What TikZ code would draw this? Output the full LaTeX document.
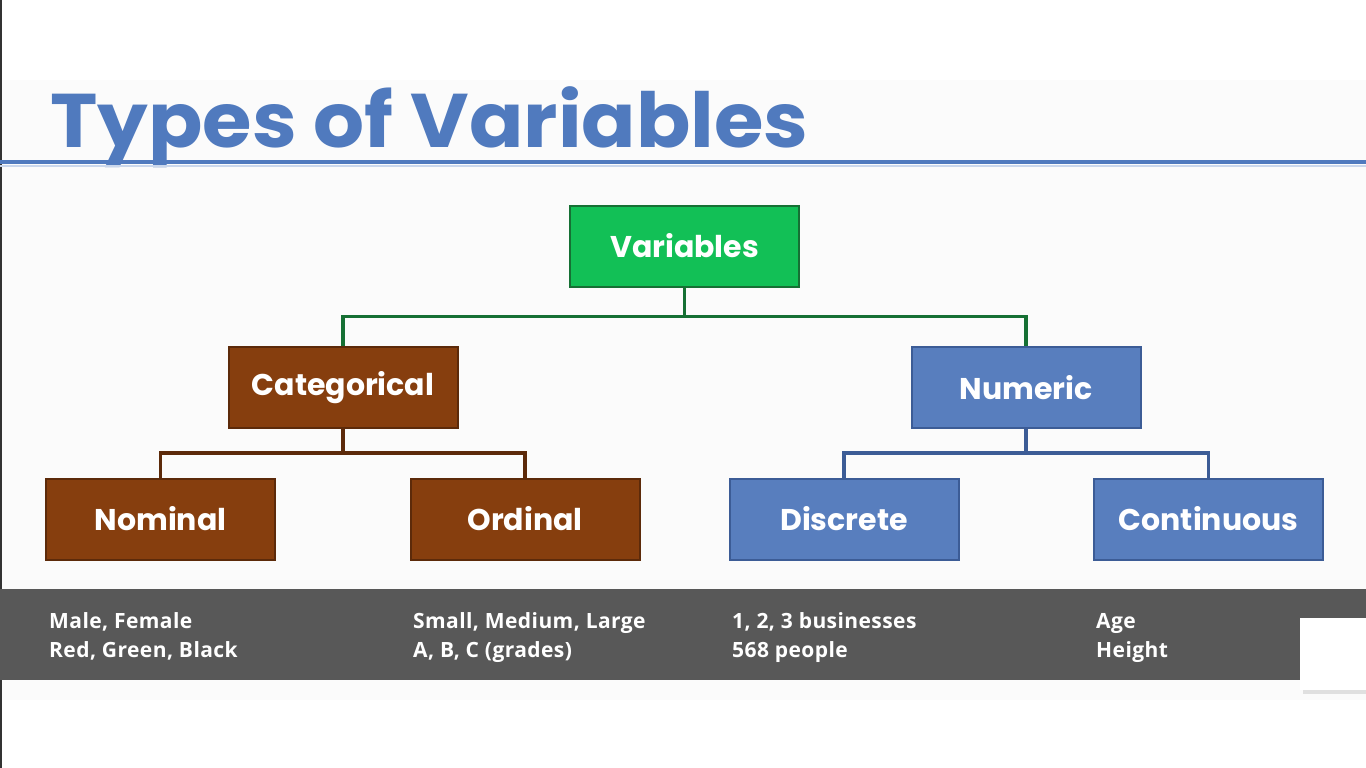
\documentclass[tikz,border=0pt]{standalone}
\usepackage{fontspec}
\setmainfont{Poppins}
\newfontfamily\bandfont{Open Sans}[LetterSpace=2]
\definecolor{titleblue}{RGB}{80,122,190}
\definecolor{varfill}{RGB}{18,192,86}
\definecolor{varedge}{RGB}{22,112,52}
\definecolor{catfill}{RGB}{134,62,14}
\definecolor{catedge}{RGB}{92,42,10}
\definecolor{numfill}{RGB}{88,126,190}
\definecolor{numedge}{RGB}{60,92,150}
\definecolor{bandgray}{RGB}{88,88,88}
\tikzset{
  box/.style={draw, line width=2pt, minimum width=229pt, minimum height=81pt,
    text=white, font=\fontsize{30}{34}\selectfont\bfseries},
  varbox/.style={box, fill=varfill, draw=varedge},
  catbox/.style={box, fill=catfill, draw=catedge},
  numbox/.style={box, fill=numfill, draw=numedge},
  link/.style={line width=3.5pt},
  bandtext/.style={anchor=base west, text=white, align=left, inner sep=0pt,
    font=\bandfont\fontsize{21}{28.5}\selectfont\bfseries}
}
\begin{document}
\begin{tikzpicture}[x=1pt,y=-1pt]
  \useasboundingbox (0,0) rectangle (1366,768);
  \fill[white] (0,0) rectangle (1366,768);
  \fill[gray!3] (0,80) rectangle (1366,700);
  \draw[black!80, line width=1.5pt] (1,0) -- (1,768);
  % title
  \node[anchor=base west, inner sep=0pt, text=titleblue, font=\fontsize{76}{80}\selectfont\bfseries] (title) at (50,147) {\scalebox{1.055}[1]{Types of Variables}};
  \draw[titleblue!30, line width=2pt] (0,166) -- (1366,166);
  \draw[titleblue, line width=4pt] (0,162) -- (1366,162);
  % boxes
  \node[varbox] (var) at (684.5,246) {Variables};
  \node[catbox] (cat) at (343,387.5) {Categorical};
  \node[numbox] (num) at (1026,387.5) {Numeric};
  \node[catbox] (nom) at (160.5,519) {Nominal};
  \node[catbox] (ord) at (525,519) {Ordinal};
  \node[numbox] (dis) at (844,519) {Discrete};
  \node[numbox] (con) at (1208.5,519) {Continuous};
  % connectors
  \draw[link, varedge] (var.south) -- ++(0,29) -| (cat.north);
  \draw[link, varedge] (var.south) -- ++(0,29) -| (num.north);
  \draw[link, catedge] (cat.south) -- ++(0,24) -| (nom.north);
  \draw[link, catedge] (cat.south) -- ++(0,24) -| (ord.north);
  \draw[link, numedge] (num.south) -- ++(0,24) -| (dis.north);
  \draw[link, numedge] (num.south) -- ++(0,24) -| (con.north);
  % examples band
  \fill[bandgray] (0,589) rectangle (1366,680);
  \node[bandtext] (nomex) at (49,657) {Male, Female\\Red, Green, Black};
  \node[bandtext] (ordex) at (413,657) {Small, Medium, Large\\A, B, C (grades)};
  \node[bandtext] (disex) at (732,657) {1, 2, 3 businesses\\568 people};
  \node[bandtext] (conex) at (1096,657) {Age\\Height};
  \fill[black!12] (1303,622) rectangle (1366,694);
  \fill[white] (1300,618) rectangle (1366,690);
\end{tikzpicture}
\end{document}
